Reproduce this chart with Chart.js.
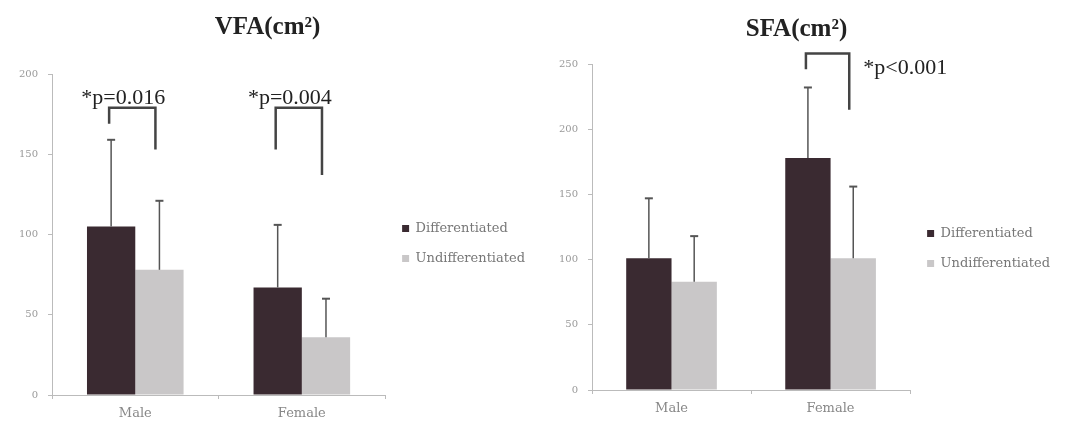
<!DOCTYPE html>
<html>
<head>
<meta charset="utf-8">
<script src="https://cdn.jsdelivr.net/npm/chart.js@4/dist/chart.umd.min.js"></script>
<style>
  body { margin: 0; background: #fff; }
  #wrap { position: relative; width: 1067px; height: 427px; }
  #vfa { position: absolute; left: 0; top: 0; }
  #sfa { position: absolute; left: 533px; top: 0; }
</style>
</head>
<body>
<div id="wrap">
  <canvas id="vfa" width="535" height="427"></canvas>
  <canvas id="sfa" width="534" height="427"></canvas>
</div>
<script>
// 데이터
const categories = ['Male', 'Female'];
const seriesNames = ['Differentiated', 'Undifferentiated'];

const vfaDiff = [105, 67];
const vfaDiffSd = [54, 39];
const vfaUndiff = [78, 36];
const vfaUndiffSd = [43, 24];
const vfaTicks = [0, 50, 100, 150, 200];

const sfaDiff = [101, 178];
const sfaDiffSd = [46, 54];
const sfaUndiff = [83, 101];
const sfaUndiffSd = [35, 55];
const sfaTicks = [0, 50, 100, 150, 200, 250];

// 유의성 괄호 (top, left arm end, right arm end)
const vfaBracketTop = [179, 179];
const vfaBracketLeft = [169, 153];
const vfaBracketRight = [153, 137];
const vfaPLabels = ['*p=0.016', '*p=0.004'];

const sfaBracketTop = [null, 258];
const sfaBracketLeft = [null, 246];
const sfaBracketRight = [null, 215];
const sfaPLabels = [null, '*p<0.001'];

const colors = ['#3a2a31', '#c9c7c8'];

// error bar (upper whisker only)
const errorBars = {
    id: 'errorBars',
    afterDatasetsDraw(chart, args, opts) {
        const ctx = chart.ctx;
        const y = chart.scales.y;
        ctx.save();
        ctx.strokeStyle = '#555';
        chart.data.datasets.forEach((ds, i) => {
            chart.getDatasetMeta(i).data.forEach((bar, j) => {
                const top = y.getPixelForValue(ds.data[j] + ds.sd[j]);
                ctx.lineWidth = 1.5;
                ctx.beginPath();
                ctx.moveTo(bar.x, bar.y);
                ctx.lineTo(bar.x, top);
                ctx.stroke();
                ctx.lineWidth = 2;
                ctx.beginPath();
                ctx.moveTo(bar.x - 4, top);
                ctx.lineTo(bar.x + 4, top);
                ctx.stroke();
            });
        });
        ctx.restore();
    }
};

// p-value brackets
const brackets = {
    id: 'brackets',
    afterDraw(chart, args, opts) {
        const ctx = chart.ctx;
        const y = chart.scales.y;
        const m0 = chart.getDatasetMeta(0).data;
        const m1 = chart.getDatasetMeta(1).data;
        ctx.save();
        ctx.strokeStyle = '#444';
        ctx.lineWidth = 2.5;
        ctx.fillStyle = '#222';
        ctx.font = '22px "Liberation Serif"';
        opts.top.forEach((t, j) => {
            if (t == null) return;
            const x1 = m0[j].x - 2, x2 = m1[j].x - 4;
            const yt = y.getPixelForValue(t);
            ctx.beginPath();
            ctx.moveTo(x1, y.getPixelForValue(opts.left[j]));
            ctx.lineTo(x1, yt);
            ctx.lineTo(x2, yt);
            ctx.lineTo(x2, y.getPixelForValue(opts.right[j]));
            ctx.stroke();
            if (opts.place === 'above') {
                ctx.textAlign = 'center';
                ctx.textBaseline = 'alphabetic';
                ctx.fillText(opts.labels[j], (x1 + x2) / 2 - 9, yt - 4);
            } else {
                ctx.textAlign = 'left';
                ctx.textBaseline = 'middle';
                ctx.fillText(opts.labels[j], x2 + 14, yt + 15);
            }
        });
        ctx.restore();
    }
};

function makeChart(el, title, diff, diffSd, undiff, undiffSd, ticks, bracketOpts, lay) {
    return new Chart(document.querySelector(el), {
        type: 'bar',
        data: {
            labels: categories,
            datasets: [
                { label: seriesNames[0], data: diff, sd: diffSd, backgroundColor: colors[0], borderWidth: 0 },
                { label: seriesNames[1], data: undiff, sd: undiffSd, backgroundColor: colors[1], borderWidth: 0 }
            ]
        },
        options: {
            responsive: false,
            animation: false,
            devicePixelRatio: 1,
            datasets: { bar: { categoryPercentage: lay.cat, barPercentage: 1 } },
            layout: { padding: { left: 0, right: lay.padRight, top: 0, bottom: 0 } },
            scales: {
                x: {
                    grid: { display: true, drawOnChartArea: false, color: '#bbb', tickLength: 4 },
                    border: { color: '#bbb' },
                    ticks: { color: '#888', font: { family: 'DejaVu Serif', size: 13 }, padding: 7 },
                    afterFit: s => { s.height = lay.xh; }
                },
                y: {
                    min: ticks[0],
                    max: ticks[ticks.length - 1],
                    afterBuildTicks: s => { s.ticks = ticks.map(v => ({ value: v })); },
                    grid: { display: true, drawOnChartArea: false, color: '#bbb', tickLength: 4 },
                    border: { color: '#bbb' },
                    ticks: { color: '#999', font: { family: 'DejaVu Serif', size: 10 }, padding: 10 },
                    afterFit: s => { s.width = lay.yw; }
                }
            },
            plugins: {
                title: {
                    display: true,
                    text: title,
                    color: '#222',
                    font: { family: 'Liberation Serif', size: 25, weight: 'bold' },
                    padding: { top: lay.tTop, bottom: lay.tBottom }
                },
                legend: {
                    position: 'right',
                    maxWidth: 200,
                    // empty legend title only pushes the items down
                    title: { display: true, text: '', font: { size: 10 }, padding: { top: lay.legShift, bottom: 0 } },
                    labels: {
                        boxWidth: 7,
                        boxHeight: 7,
                        padding: 17,
                        color: '#777',
                        font: { family: 'DejaVu Serif', size: 13 }
                    }
                },
                tooltip: { enabled: false },
                brackets: bracketOpts
            }
        },
        plugins: [errorBars, brackets]
    });
}

makeChart('#vfa', 'VFA(cm²)', vfaDiff, vfaDiffSd, vfaUndiff, vfaUndiffSd, vfaTicks,
    { top: vfaBracketTop, left: vfaBracketLeft, right: vfaBracketRight, labels: vfaPLabels, place: 'above' },
    { cat: 0.58, padRight: 0, xh: 32, yw: 52, tTop: 13, tBottom: 31, legShift: 48 });

makeChart('#sfa', 'SFA(cm²)', sfaDiff, sfaDiffSd, sfaUndiff, sfaUndiffSd, sfaTicks,
    { top: sfaBracketTop, left: sfaBracketLeft, right: sfaBracketRight, labels: sfaPLabels, place: 'right' },
    { cat: 0.57, padRight: 7, xh: 37, yw: 59, tTop: 15, tBottom: 19, legShift: 58 });
</script>
</body>
</html>
